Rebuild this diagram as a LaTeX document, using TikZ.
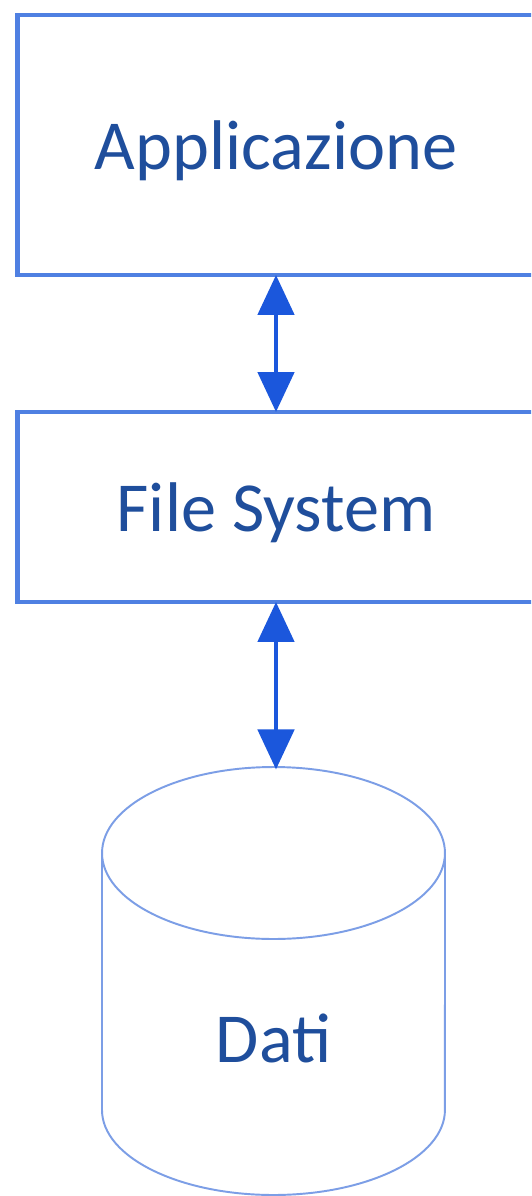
\documentclass[tikz,border=0pt]{standalone}
\usepackage{fontspec}
\setmainfont{Carlito}
\usepackage{tikz}
\usetikzlibrary{arrows.meta}
\usepackage{xcolor}

\definecolor{boxblue}{HTML}{4F80E2}
\definecolor{arrblue}{HTML}{1B57DC}
\definecolor{txtblue}{HTML}{1F4E9C}
\definecolor{cylblue}{HTML}{7C9EE6}

\begin{document}
\begin{tikzpicture}[x=0.02cm, y=-0.02cm, font=\fontsize{40}{48}\selectfont, text=txtblue,
	layer/.style={rectangle, draw=boxblue, line width=2.8pt, fill=white, minimum width=10.36cm, text depth=0pt},
	link/.style={{Triangle[length=0.8cm, width=0.72cm]}-{Triangle[length=0.8cm, width=0.72cm]}, draw=arrblue, line width=2.8pt, shorten <=-1.4pt, shorten >=-1.4pt}]
	\clip (0, 0) rectangle (531, 1196);
	\fill[white] (0, 0) rectangle (531, 1196);
	
	\node[layer, minimum height=5.2cm] (app) at (276, 145) {Applicazione};
	\node[layer, minimum height=3.8cm] (fs) at (276, 507) {File System};
	
	% storage drum
	\draw[cylblue, line width=1.1pt, fill=white] (102, 853) -- (102, 1110) arc (180:360:3.43cm and 1.7cm) -- (445, 853);
	\draw[cylblue, line width=1.1pt] (273.5, 853) ellipse [x radius=3.43cm, y radius=1.72cm];
	\coordinate (top) at (275, 767);
	\node (dati) at (273.5, 1038) {Dati};
	
	\draw[link] (app) to (fs);
	\draw[link] (fs) to (fs |- top);
\end{tikzpicture}
\end{document}
